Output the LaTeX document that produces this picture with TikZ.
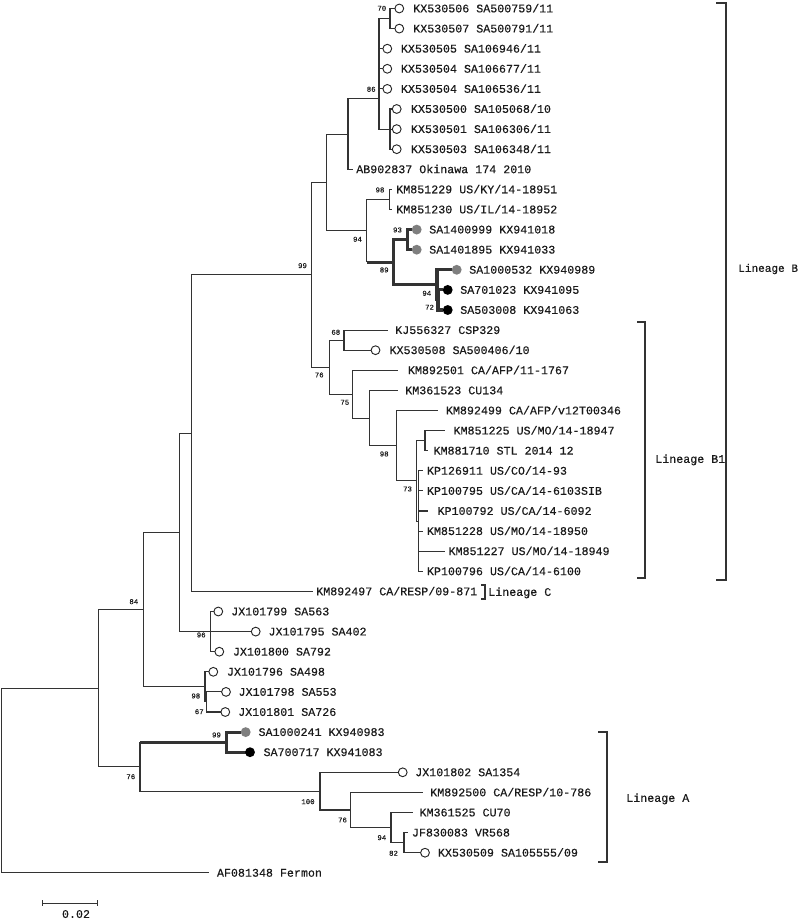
\documentclass[tikz,border=0pt]{standalone}
\usepackage{fontspec}
\setmainfont{Liberation Mono}[FakeBold=0.35]
\definecolor{lc}{HTML}{333333}
\definecolor{tc}{HTML}{1A1A1A}
\definecolor{gfill}{HTML}{7F7F7F}
\begin{document}
\begin{tikzpicture}[x=0.75pt,y=-0.75pt,
  br/.style={draw=lc,line width=0.8pt},
  thk/.style={draw=lc,line width=2.3pt},
  oc/.style={circle,draw=black!85,line width=0.7pt,fill=white,minimum size=6.6pt,inner sep=0pt},
  gc/.style={circle,fill=gfill,draw=none,minimum size=7.4pt,inner sep=0pt},
  bc/.style={circle,fill=black,draw=none,minimum size=7.4pt,inner sep=0pt},
  lab/.style={anchor=west,inner sep=0pt,text height=5.8pt,text depth=0pt,font=\fontsize{8.75}{10}\selectfont,text=tc},
  bs/.style={inner sep=0pt,text height=3.6pt,text depth=0pt,font=\fontsize{5.5}{6}\selectfont,text=tc},
  brk/.style={draw=lc,line width=0.8pt}
]
\path[use as bounding box] (0,0) rectangle (800,919);

% ---------- internal nodes ----------
\coordinate (root) at (1.5,780.5);
\coordinate (nA) at (98.3,688.1);
\coordinate (n84) at (143.3,609.6);
\coordinate (nB) at (179.3,532.35);
\coordinate (nC) at (191.7,433.1);
\coordinate (n99) at (311.7,274.85);
\coordinate (nD) at (326.7,182.5);
\coordinate (nE) at (348,134.1);
\coordinate (n86) at (379,98.95);
\coordinate (n70) at (390,18.55);
\coordinate (n567) at (390,129.1);
\coordinate (n94u) at (366.7,230.9);
\coordinate (n98a) at (389.3,199.45);
\coordinate (n89) at (393.3,262.3);
\coordinate (n93) at (407.3,239.65);
\coordinate (n94b) at (437,284.9);
\coordinate (n72) at (438,299.95);
\coordinate (n76a) at (329.3,367.2);
\coordinate (n68) at (344,340.15);
\coordinate (n75) at (352.7,394.2);
\coordinate (nF) at (369.3,418.05);
\coordinate (n98b) at (396.7,445.7);
\coordinate (n73) at (416.7,480.85);
\coordinate (nKM) at (425,440.65);
\coordinate (nPoly) at (418.3,521.05);
\coordinate (n96) at (210.7,631.6);
\coordinate (n98c) at (205,686.9);
\coordinate (n67) at (206.7,701.95);
\coordinate (n76b) at (140,766.65);
\coordinate (n99b) at (226.7,742.15);
\coordinate (n100) at (320,791.15);
\coordinate (n76c) at (350.7,810);
\coordinate (n94c) at (391,827.6);
\coordinate (n82) at (404,842.65);

% ---------- tip ends ----------
\coordinate (t0) at (394.8,8.5);
\coordinate (t1) at (394.8,28.6);
\coordinate (t2) at (382.8,48.7);
\coordinate (t3) at (382.8,68.8);
\coordinate (t4) at (382.8,88.9);
\coordinate (t5) at (392.2,109.0);
\coordinate (t6) at (392.2,129.1);
\coordinate (t7) at (392.2,149.2);
\coordinate (t8) at (353,169.3);
\coordinate (t9) at (392,189.4);
\coordinate (t10) at (392,209.5);
\coordinate (t11) at (412.2,229.6);
\coordinate (t12) at (412.2,249.7);
\coordinate (t13) at (452.2,269.8);
\coordinate (t14) at (443.2,289.9);
\coordinate (t15) at (443.2,310.0);
\coordinate (t16) at (388.3,330.1);
\coordinate (t17) at (371,350.2);
\coordinate (t18) at (398.3,370.3);
\coordinate (t19) at (398.3,390.4);
\coordinate (t20) at (438.3,410.5);
\coordinate (t21) at (445,430.6);
\coordinate (t22) at (428,450.7);
\coordinate (t23) at (423,470.8);
\coordinate (t24) at (423,490.9);
\coordinate (t25) at (428.3,511.0);
\coordinate (t26) at (423,531.1);
\coordinate (t27) at (445,551.2);
\coordinate (t28) at (423,571.3);
\coordinate (t29) at (313.3,591.4);
\coordinate (t30) at (213.8,611.5);
\coordinate (t31) at (251.2,631.6);
\coordinate (t32) at (214.8,651.7);
\coordinate (t33) at (208.8,671.8);
\coordinate (t34) at (221.5,691.9);
\coordinate (t35) at (220.8,712.0);
\coordinate (t36) at (241.2,732.1);
\coordinate (t37) at (245.5,752.2);
\coordinate (t38) at (398.2,772.3);
\coordinate (t39) at (422.7,792.4);
\coordinate (t40) at (413.3,812.5);
\coordinate (t41) at (408,832.6);
\coordinate (t42) at (420.5,852.7);
\coordinate (t43) at (209.3,872.8);

% ---------- branches ----------
\draw[br] (root) |- (nA);
\draw[br] (root) |- (t43);
\draw[br] (nA) |- (n84);
\draw[br] (nA) |- (n76b);
\draw[br] (n84) |- (nB);
\draw[br] (n84) |- (n98c);
\draw[br] (nB) |- (nC);
\draw[br] (nB) |- (n96);
\draw[br] (nC) |- (n99);
\draw[br] (nC) |- (t29);
\draw[br] (n99) |- (nD);
\draw[br] (n99) |- (n76a);
\draw[br] (nD) |- (nE);
\draw[br] (nD) |- (n94u);
\draw[br] (nE) |- (n86);
\draw[br] (nE) |- (t8);
\draw[br] (n86) |- (n70);
\draw[br] (n86) |- (t2);
\draw[br] (n86) |- (t3);
\draw[br] (n86) |- (t4);
\draw[br] (n86) |- (n567);
\draw[br] (n70) |- (t0);
\draw[br] (n70) |- (t1);
\draw[br] (n567) |- (t5);
\draw[br] (n567) |- (t6);
\draw[br] (n567) |- (t7);
\draw[br] (n94u) |- (n98a);
\draw[br] (n94u) -- (n94u |- n89);
\draw[thk] (n94u |- n89) -- (n89);
\draw[br] (n98a) |- (t9);
\draw[br] (n98a) |- (t10);
\draw[thk] (n89) |- (n93);
\draw[thk] (n89) |- (n94b);
\draw[thk] (n93) |- (t11);
\draw[thk] (n93) |- (t12);
\draw[thk] (n94b) |- (t13);
\draw[thk] (n94b) |- (n72);
\draw[thk] (n72) |- (t14);
\draw[thk] (n72) |- (t15);
\draw[br] (n76a) |- (n68);
\draw[br] (n76a) |- (n75);
\draw[br] (n68) |- (t16);
\draw[br] (n68) |- (t17);
\draw[br] (n75) |- (t18);
\draw[br] (n75) |- (nF);
\draw[br] (nF) |- (t19);
\draw[br] (nF) |- (n98b);
\draw[br] (n98b) |- (t20);
\draw[br] (n98b) |- (n73);
\draw[br] (n73) |- (nKM);
\draw[br] (n73) |- (nPoly);
\draw[br] (nKM) |- (t21);
\draw[br] (nKM) |- (t22);
\draw[br] (nPoly) |- (t23);
\draw[br] (nPoly) |- (t24);
\draw[br] (nPoly) |- (t25);
\draw[br] (nPoly) |- (t26);
\draw[br] (nPoly) |- (t27);
\draw[br] (nPoly) |- (t28);
\draw[br] (n96) |- (t30);
\draw[br] (n96) |- (t31);
\draw[br] (n96) |- (t32);
\draw[br] (n98c) |- (t33);
\draw[br] (n98c) |- (n67);
\draw[br] (n67) |- (t34);
\draw[br] (n67) |- (t35);
\draw[br] (n76b) -- (n76b |- n99b);
\draw[thk] (n76b |- n99b) -- (n99b);
\draw[br] (n76b) |- (n100);
\draw[thk] (n99b) |- (t36);
\draw[thk] (n99b) |- (t37);
\draw[br] (n100) |- (t38);
\draw[br] (n100) |- (n76c);
\draw[br] (n76c) |- (t39);
\draw[br] (n76c) |- (n94c);
\draw[br] (n94c) |- (t40);
\draw[br] (n94c) |- (n82);
\draw[br] (n82) |- (t41);
\draw[br] (n82) |- (t42);

% ---------- tip markers ----------
\node[oc] (c0) at (399.3,8.5) {};
\node[oc] (c1) at (399.3,28.6) {};
\node[oc] (c2) at (387.3,48.7) {};
\node[oc] (c3) at (387.3,68.8) {};
\node[oc] (c4) at (387.3,88.9) {};
\node[oc] (c5) at (396.7,109.0) {};
\node[oc] (c6) at (396.7,129.1) {};
\node[oc] (c7) at (396.7,149.2) {};
\node[gc] (c11) at (416.7,229.6) {};
\node[gc] (c12) at (416.7,249.7) {};
\node[gc] (c13) at (456.7,269.8) {};
\node[bc] (c14) at (447.7,289.9) {};
\node[bc] (c15) at (447.7,310.0) {};
\node[oc] (c17) at (375.5,350.2) {};
\node[oc] (c30) at (218.3,611.5) {};
\node[oc] (c31) at (255.7,631.6) {};
\node[oc] (c32) at (219.3,651.7) {};
\node[oc] (c33) at (213.3,671.8) {};
\node[oc] (c34) at (226,691.9) {};
\node[oc] (c35) at (225.3,712.0) {};
\node[gc] (c36) at (245.7,732.1) {};
\node[bc] (c37) at (250,752.2) {};
\node[oc] (c38) at (402.7,772.3) {};
\node[oc] (c42) at (425,852.7) {};

% ---------- tip labels ----------
\node[lab] (l0) at (413,8.5) {KX530506 SA500759/11};
\node[lab] (l1) at (413,28.6) {KX530507 SA500791/11};
\node[lab] (l2) at (400.7,48.7) {KX530505 SA106946/11};
\node[lab] (l3) at (400.7,68.8) {KX530504 SA106677/11};
\node[lab] (l4) at (400.7,88.9) {KX530504 SA106536/11};
\node[lab] (l5) at (410.7,109.0) {KX530500 SA105068/10};
\node[lab] (l6) at (410.7,129.1) {KX530501 SA106306/11};
\node[lab] (l7) at (410.7,149.2) {KX530503 SA106348/11};
\node[lab] (l8) at (356,169.3) {AB902837 Okinawa 174 2010};
\node[lab] (l9) at (396,189.4) {KM851229 US/KY/14-18951};
\node[lab] (l10) at (396,209.5) {KM851230 US/IL/14-18952};
\node[lab] (l11) at (429,229.6) {SA1400999 KX941018};
\node[lab] (l12) at (429,249.7) {SA1401895 KX941033};
\node[lab] (l13) at (469,269.8) {SA1000532 KX940989};
\node[lab] (l14) at (460,289.9) {SA701023 KX941095};
\node[lab] (l15) at (460,310.0) {SA503008 KX941063};
\node[lab] (l16) at (395,330.1) {KJ556327 CSP329};
\node[lab] (l17) at (389.3,350.2) {KX530508 SA500406/10};
\node[lab] (l18) at (407.7,370.3) {KM892501 CA/AFP/11-1767};
\node[lab] (l19) at (405,390.4) {KM361523 CU134};
\node[lab] (l20) at (445.7,410.5) {KM892499 CA/AFP/v12T00346};
\node[lab] (l21) at (453.3,430.6) {KM851225 US/MO/14-18947};
\node[lab] (l22) at (433.3,450.7) {KM881710 STL 2014 12};
\node[lab] (l23) at (426.7,470.8) {KP126911 US/CO/14-93};
\node[lab] (l24) at (426.7,490.9) {KP100795 US/CA/14-6103SIB};
\node[lab] (l25) at (437.3,511.0) {KP100792 US/CA/14-6092};
\node[lab] (l26) at (426.7,531.1) {KM851228 US/MO/14-18950};
\node[lab] (l27) at (448.3,551.2) {KM851227 US/MO/14-18949};
\node[lab] (l28) at (426.7,571.3) {KP100796 US/CA/14-6100};
\node[lab] (l29) at (316,591.4) {KM892497 CA/RESP/09-871};
\node[lab] (l30) at (231,611.5) {JX101799 SA563};
\node[lab] (l31) at (268.3,631.6) {JX101795 SA402};
\node[lab] (l32) at (232.7,651.7) {JX101800 SA792};
\node[lab] (l33) at (226.7,671.8) {JX101796 SA498};
\node[lab] (l34) at (238.3,691.9) {JX101798 SA553};
\node[lab] (l35) at (238,712.0) {JX101801 SA726};
\node[lab] (l36) at (258.3,732.1) {SA1000241 KX940983};
\node[lab] (l37) at (263.3,752.2) {SA700717 KX941083};
\node[lab] (l38) at (415,772.3) {JX101802 SA1354};
\node[lab] (l39) at (430,792.4) {KM892500 CA/RESP/10-786};
\node[lab] (l40) at (419.3,812.5) {KM361525 CU70};
\node[lab] (l41) at (411.7,832.6) {JF830083 VR568};
\node[lab] (l42) at (437.7,852.7) {KX530509 SA105555/09};
\node[lab] (l43) at (216.7,872.8) {AF081348 Fermon};

% ---------- bootstrap values ----------
\node[bs] (b70) at (381.8,8.3) {70};
\node[bs] (b86) at (371.2,89.3) {86};
\node[bs] (b98a) at (380,190) {98};
\node[bs] (b93) at (397.5,230) {93};
\node[bs] (b94u) at (357.5,239.3) {94};
\node[bs] (b89) at (384.2,270) {89};
\node[bs] (b99) at (302.5,265.7) {99};
\node[bs] (b94b) at (426.8,293.3) {94};
\node[bs] (b72) at (429.5,307.3) {72};
\node[bs] (b68) at (335.8,332.3) {68};
\node[bs] (b76a) at (319.2,375) {76};
\node[bs] (b75) at (344.8,402.3) {75};
\node[bs] (b98b) at (384.2,454) {98};
\node[bs] (b73) at (407.5,489) {73};
\node[bs] (b84) at (133.8,601.7) {84};
\node[bs] (b96) at (201.2,635) {96};
\node[bs] (b98c) at (195.8,696) {98};
\node[bs] (b67) at (199.2,711.7) {67};
\node[bs] (b99b) at (216.5,735) {99};
\node[bs] (b76b) at (130.8,776.7) {76};
\node[bs] (b100) at (308,801.7) {100};
\node[bs] (b76c) at (342.5,820) {76};
\node[bs] (b94c) at (381.8,837.7) {94};
\node[bs] (b82) at (393.5,853.3) {82};

% ---------- lineage brackets ----------
\coordinate (LBt) at (716,3);
\coordinate (LBb) at (716,580);
\draw[brk] (LBt) -- ++(10,0) |- (LBb);
\node[lab,font=\fontsize{8.3}{10}\selectfont] (LB) at (738,268) {Lineage B};
\coordinate (LB1t) at (637,322);
\coordinate (LB1b) at (637,578);
\draw[brk] (LB1t) -- ++(8,0) |- (LB1b);
\node[lab] (LB1) at (655,459) {Lineage B1};
\coordinate (LCt) at (481,585);
\coordinate (LCb) at (481,599);
\draw[brk] (LCt) -- ++(4,0) |- (LCb);
\node[lab] (LC) at (488,592) {Lineage C};
\coordinate (LAt) at (598,732);
\coordinate (LAb) at (598,862);
\draw[brk] (LAt) -- ++(9,0) |- (LAb);
\node[lab] (LA) at (626,798) {Lineage A};

% ---------- scale bar ----------
\coordinate (s0) at (42.7,903.3);
\coordinate (s1) at (97.3,903.3);
\draw[br] (s0) -- (s1);
\draw[br] (s0) ++(0,-3) -- ++(0,6);
\draw[br] (s1) ++(0,-3) -- ++(0,6);
\node[lab,anchor=center] (sl) at (76,914) {0.02};
\end{tikzpicture}
\end{document}
